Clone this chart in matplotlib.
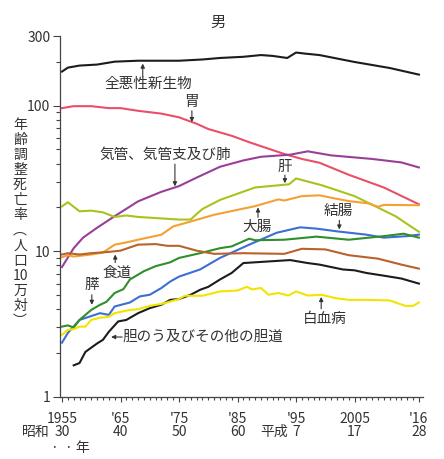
import numpy as np
import matplotlib
matplotlib.use('Agg')
import matplotlib.pyplot as plt
from matplotlib.ticker import FixedLocator, NullFormatter

plt.rcParams['font.family'] = ['Noto Sans CJK JP', 'DejaVu Sans']

# --- data (age-adjusted death rate, male, per 100k) ---
all_yr = [1955, 1956, 1958, 1961, 1964, 1968, 1972, 1975, 1979, 1982, 1986, 1989, 1991, 1993.5, 1995, 1996.6, 1999, 2005, 2011, 2016]
all_v = [171, 182, 188, 191, 200, 203, 203, 203, 207, 212, 216, 222, 219, 212, 231, 227, 222, 199, 181, 163]

stomach_yr = [1955, 1957, 1960, 1963, 1965, 1968, 1972, 1975, 1978, 1980, 1984, 1987, 1993, 1996, 1999, 2004, 2010, 2016]
stomach_v = [96, 99, 99, 96, 96, 92, 88, 83, 75, 69, 62, 56, 46.5, 43, 40.5, 33.5, 27.4, 21]

lung_yr = [1955, 1957, 1958.6, 1961, 1964, 1968, 1972, 1975, 1978, 1982, 1986, 1989, 1994, 1997, 2001, 2008, 2013, 2016]
lung_v = [7.8, 10.5, 12.4, 14.5, 17.4, 22, 25.6, 28, 32, 38, 42, 44.5, 46, 48.5, 45.5, 43, 40.7, 37.6]

liver_yr = [1955, 1956, 1958, 1960, 1962, 1964, 1966, 1968, 1970, 1975, 1977, 1978, 1979, 1982, 1988, 1993.8, 1995, 1999.5, 2005, 2008.5, 2012, 2016]
liver_v = [20.3, 21.7, 18.8, 19, 18.5, 17.2, 17.6, 17.2, 17, 16.5, 16.5, 18, 19.5, 22.5, 27.4, 28.8, 31.6, 28.3, 23.9, 20.4, 17.4, 13.6]

colrect_yr = [1955, 1956, 1957, 1960, 1962, 1964, 1966, 1968, 1972, 1974, 1977, 1981, 1988, 1992, 1993, 1996, 1999, 2001, 2004, 2007.4, 2009, 2010, 2016]
colrect_v = [9.1, 9.4, 9.2, 9.5, 9.8, 11.1, 11.5, 12, 13, 14.8, 16, 17.8, 20.4, 22.7, 22.3, 23.9, 24.2, 23.3, 22.1, 21.3, 20.2, 20.8, 20.7]

colon_yr = [1955, 1956, 1958, 1961.5, 1963, 1964, 1966.6, 1968.3, 1970, 1972, 1973.5, 1975, 1978.6, 1982, 1987, 1991.7, 1995.7, 1998.5, 2002, 2007, 2010, 2014, 2016]
colon_v = [2.36, 2.75, 3.38, 3.76, 3.66, 4.18, 4.45, 4.9, 5.03, 5.6, 6.2, 6.7, 7.5, 9.0, 11.1, 13.4, 14.6, 14.3, 13.7, 13.0, 12.4, 12.7, 13.0]

pancreas_yr = [1955, 1956, 1957, 1958, 1960, 1961.5, 1962.6, 1964, 1965.5, 1966.6, 1969, 1971, 1973.5, 1975, 1978.6, 1982, 1984, 1987, 1988, 1993, 1998.5, 2004, 2010, 2013.4, 2016]
pancreas_v = [3.04, 3.1, 3.0, 3.38, 3.96, 4.29, 4.5, 5.17, 5.5, 6.4, 7.3, 7.9, 8.4, 9.0, 9.7, 10.5, 10.8, 12.2, 11.9, 12.0, 12.6, 12.0, 12.7, 13.2, 12.4]

esoph_yr = [1955, 1956, 1958, 1960, 1963, 1965, 1968, 1971, 1973, 1975, 1978, 1981, 1986, 1993, 1996, 2000, 2004, 2009, 2013, 2016]
esoph_v = [9.5, 9.7, 9.5, 9.7, 9.9, 10.1, 11.1, 11.2, 10.9, 10.9, 10.1, 9.6, 9.7, 9.6, 10.4, 10.3, 9.4, 8.9, 8.1, 7.6]

gall_yr = [1957, 1958, 1959, 1961, 1962, 1963, 1964.6, 1966, 1968, 1970, 1972, 1973.5, 1975, 1977, 1978.6, 1980, 1982, 1984, 1986, 1988, 1994, 1997, 1999, 2003, 2005, 2007, 2010, 2013, 2016]
gall_v = [1.65, 1.71, 2.04, 2.33, 2.47, 2.8, 3.3, 3.38, 3.76, 4.07, 4.3, 4.64, 4.7, 5.03, 5.44, 5.7, 6.4, 7.1, 8.3, 8.4, 8.7, 8.3, 8.1, 7.5, 7.4, 7.1, 6.8, 6.5, 6.0]

leuk_yr = [1955, 1956, 1957, 1958, 1959, 1960, 1961.5, 1963, 1964, 1966.6, 1968, 1970, 1972, 1973.5, 1975, 1976, 1979, 1982, 1985, 1986.6, 1987.5, 1989, 1990.3, 1992, 1993.7, 1995, 1997, 1999.4, 2001.7, 2004, 2007, 2011, 2012, 2013.7, 2015, 2016]
leuk_v = [2.67, 2.89, 2.92, 3.04, 3.04, 3.38, 3.5, 3.55, 3.76, 3.96, 4.0, 4.22, 4.35, 4.52, 4.7, 4.95, 4.95, 5.3, 5.38, 5.7, 5.47, 5.6, 5.03, 5.17, 4.97, 5.3, 4.97, 5.03, 4.77, 4.64, 4.64, 4.6, 4.45, 4.22, 4.22, 4.45]

series = [
    (all_yr, all_v, '#1c1c1c'),
    (stomach_yr, stomach_v, '#e8506a'),
    (lung_yr, lung_v, '#9a3f98'),
    (liver_yr, liver_v, '#a8c41c'),
    (colrect_yr, colrect_v, '#f5a030'),
    (colon_yr, colon_v, '#3c6fd2'),
    (pancreas_yr, pancreas_v, '#2f8f2a'),
    (esoph_yr, esoph_v, '#b8622c'),
    (gall_yr, gall_v, '#1c1c1c'),
    (leuk_yr, leuk_v, '#f2e400'),
]

xtick_pos = [1955, 1965, 1975, 1985, 1995, 2005, 2016]
xtick_lab = ['1955', "'65", "'75", "'85", "'95", '2005', "'16"]
era_lab = ['30', '40', '50', '60', '7', '17', '28']

txt = '#333333'

fig = plt.figure(figsize=(4.44, 4.59), dpi=100)
ax = fig.add_axes([60 / 444, 62 / 459, 363 / 444, 361 / 459])

for yr, v, c in series:
    ax.plot(yr, v, color=c, lw=1.5, solid_joinstyle='round')

ax.set_yscale('log')
ax.set_ylim(1, 300)
ax.set_xlim(1954.66, 2016.7)

ax.yaxis.set_major_locator(FixedLocator([1, 10, 100, 300]))
ax.yaxis.set_minor_locator(FixedLocator([2, 3, 4, 5, 6, 7, 8, 9, 20, 30, 40, 50, 60, 70, 80, 90, 200]))
ax.set_yticklabels(['1', '10', '100', '300'])
ax.yaxis.set_minor_formatter(NullFormatter())

ax.xaxis.set_major_locator(FixedLocator(xtick_pos))
ax.xaxis.set_minor_locator(FixedLocator(list(range(1955, 2017))))
ax.set_xticklabels(xtick_lab)

ax.tick_params(axis='y', which='major', length=5, width=0.8, colors='#444444', labelcolor=txt, labelsize=10, pad=2)
ax.tick_params(axis='y', which='minor', length=3, width=0.8, colors='#444444')
ax.tick_params(axis='x', which='major', length=3.5, width=0.8, colors='#444444', labelcolor=txt, labelsize=10, pad=7)
ax.tick_params(axis='x', which='minor', length=2.5, width=0.8, colors='#444444')

for s in ['top', 'right']:
    ax.spines[s].set_visible(False)
for s in ['left', 'bottom']:
    ax.spines[s].set_color('#444444')
    ax.spines[s].set_linewidth(0.9)

# era (Showa / Heisei) row under the year labels
xt = ax.get_xaxis_transform()
for p, lab in zip(xtick_pos, era_lab):
    ax.text(p, -35 / 361, lab, transform=xt, ha='center', va='center', fontsize=10, color=txt)

# titles and axis captions
fig.text(218 / 444, 1 - 22 / 459, '男', ha='center', va='center', fontsize=11, color=txt)
fig.text(20 / 444, 1 - 223 / 459, '年\n齢\n調\n整\n死\n亡\n率\n︵\n人\n口\n10\n万\n対\n︶',
         ha='center', va='center', fontsize=10, color=txt, linespacing=1.1)
fig.text(36 / 444, 1 - 432 / 459, '昭和', ha='center', va='center', fontsize=10, color=txt)
fig.text(274 / 444, 1 - 432 / 459, '平成', ha='center', va='center', fontsize=10, color=txt)
fig.text(70 / 444, 1 - 448 / 459, '·  · 年', ha='center', va='center', fontsize=10, color=txt)

# series labels with arrows
arrow = dict(arrowstyle='-|>', lw=0.8, color='#333333', mutation_scale=6, shrinkA=0, shrinkB=0)
lab_kw = dict(ha='center', va='center', fontsize=10.5, color=txt)

ax.text(1969.7, 141, '全悪性新生物', **lab_kw)
ax.annotate('', xy=(1968.8, 194), xytext=(1968.8, 158), arrowprops=arrow)

ax.text(1977.2, 106, '胃', **lab_kw)
ax.annotate('', xy=(1977.2, 77), xytext=(1977.2, 92), arrowprops=arrow)

ax.text(1972.6, 45.6, '気管、気管支及び肺', **lab_kw)
ax.annotate('', xy=(1974.3, 27.9), xytext=(1974.3, 39.6), arrowprops=arrow)

ax.text(1993.1, 37.8, '肝', **lab_kw)
ax.annotate('', xy=(1993.1, 29.3), xytext=(1993.1, 33.3), arrowprops=arrow)

ax.text(1988.3, 14.8, '大腸', **lab_kw)
ax.annotate('', xy=(1988.5, 20.0), xytext=(1988.5, 17.1), arrowprops=arrow)

ax.text(2002.2, 18.9, '結腸', **lab_kw)
ax.annotate('', xy=(2002.4, 14.1), xytext=(2002.4, 16.3), arrowprops=arrow)

ax.text(1964.4, 7.13, '食道', **lab_kw)
ax.annotate('', xy=(1964.1, 9.5), xytext=(1964.1, 8.36), arrowprops=arrow)

ax.text(1960.1, 5.9, '膵', **lab_kw)
ax.annotate('', xy=(1960.1, 4.29), xytext=(1960.1, 5.03), arrowprops=arrow)

ax.text(1965.4, 2.58, '胆のう及びその他の胆道', ha='left', va='center', fontsize=10.5, color=txt)
ax.annotate('', xy=(1963.4, 2.58), xytext=(1965.3, 2.58), arrowprops=arrow)

ax.text(1999.96, 3.43, '白血病', **lab_kw)
ax.annotate('', xy=(1999.3, 4.86), xytext=(1999.3, 4.03), arrowprops=arrow)

fig.savefig('out.png', dpi=100)
